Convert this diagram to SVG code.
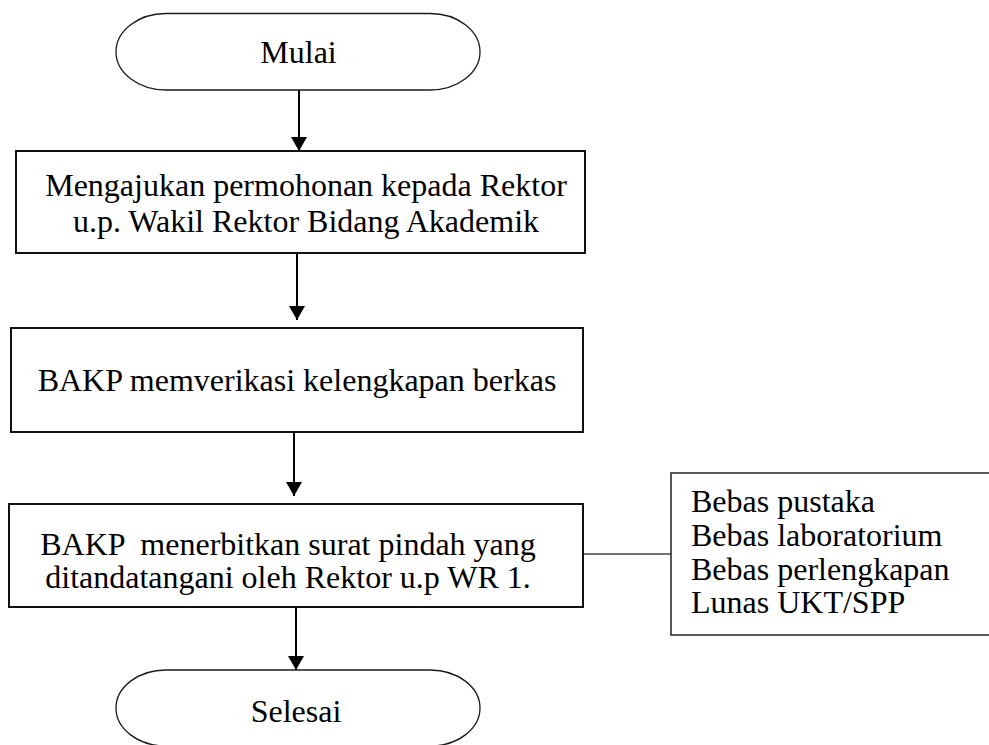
<svg xmlns="http://www.w3.org/2000/svg" width="989" height="745" viewBox="0 0 989 745">
  <style>
    .bg { fill: #ffffff; }
    .term { fill: #ffffff; stroke: #1a1a1a; stroke-width: 1.3; }
    .box { fill: #ffffff; stroke: #111111; stroke-width: 2; }
    .note { fill: #ffffff; stroke: #222222; stroke-width: 1.5; }
    .lbl { font-family: "Liberation Serif", "Times New Roman", serif; font-size: 32px; fill: #000000; }
    .mid { text-anchor: middle; }
    .flow { stroke: #000000; stroke-width: 2; fill: none; marker-end: url(#head); }
    .link { stroke: #444444; stroke-width: 1.6; fill: none; }
  </style>
  <defs>
    <marker id="head" viewBox="0 0 14 16" refX="14" refY="8" markerWidth="14" markerHeight="16" markerUnits="userSpaceOnUse" orient="auto">
      <path d="M0,0 L14,8 L0,16 Z" fill="#000000"/>
    </marker>
  </defs>

  <rect class="bg" x="0" y="0" width="989" height="745"/>

  <!-- flow connectors -->
  <g id="connectors">
    <line class="flow" x1="299" y1="90" x2="299" y2="151"/>
    <line class="flow" x1="297" y1="253" x2="297" y2="320"/>
    <line class="flow" x1="294" y1="432" x2="294" y2="496"/>
    <line class="flow" x1="296" y1="607" x2="296" y2="670"/>
    <line class="link" x1="583" y1="554" x2="671" y2="554"/>
  </g>

  <!-- start terminal -->
  <g id="start">
    <path class="term" d="M166,13.5 H430 A50,38.25 0 0 1 430,90 H166 A50,38.25 0 0 1 166,13.5 Z"/>
    <text class="lbl mid" x="298.5" y="63">Mulai</text>
  </g>

  <!-- step 1 -->
  <g id="step1">
    <rect class="box" x="16" y="151" width="569" height="102"/>
    <text class="lbl mid" x="306" y="196">Mengajukan permohonan kepada Rektor</text>
    <text class="lbl mid" x="306" y="232">u.p. Wakil Rektor Bidang Akademik</text>
  </g>

  <!-- step 2 -->
  <g id="step2">
    <rect class="box" x="11" y="328" width="572" height="104"/>
    <text class="lbl mid" x="297" y="391">BAKP memverikasi kelengkapan berkas</text>
  </g>

  <!-- step 3 -->
  <g id="step3">
    <rect class="box" x="9" y="504" width="574" height="103"/>
    <text class="lbl mid" x="288" y="555" xml:space="preserve">BAKP  menerbitkan surat pindah yang</text>
    <text class="lbl mid" x="288" y="588">ditandatangani oleh Rektor u.p WR 1.</text>
  </g>

  <!-- requirements note -->
  <g id="requirements">
    <rect class="note" x="671" y="473" width="330" height="162"/>
    <text class="lbl" x="691" y="512">Bebas pustaka</text>
    <text class="lbl" x="691" y="546">Bebas laboratorium</text>
    <text class="lbl" x="691" y="580">Bebas perlengkapan</text>
    <text class="lbl" x="691" y="613">Lunas UKT/SPP</text>
  </g>

  <!-- end terminal -->
  <g id="end">
    <path class="term" d="M166,670 H430 A50,38 0 0 1 430,746 H166 A50,38 0 0 1 166,670 Z"/>
    <text class="lbl mid" x="296" y="722">Selesai</text>
  </g>
</svg>
